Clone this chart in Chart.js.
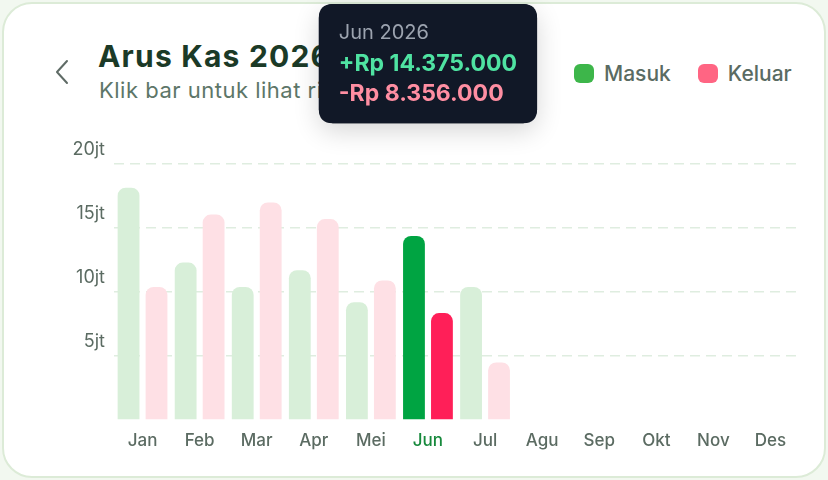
<!DOCTYPE html>
<html>
<head>
<meta charset="utf-8">
<script src="https://cdn.jsdelivr.net/npm/chart.js@4.4.1/dist/chart.umd.min.js"></script>
<style>
  html, body { margin: 0; padding: 0; }
  body { width: 828px; height: 480px; background: #f2f8f0; position: relative; overflow: hidden; font-family: Inter, "Noto Sans", sans-serif; }
  .card { position: absolute; left: 2px; top: 2px; width: 824px; height: 476px; box-sizing: border-box; background: #fff; border: 2px solid #dcebd7; border-radius: 30px; }
  .back { position: absolute; left: 52px; top: 58px; }
  .title { position: absolute; left: 98px; top: 38px; font-size: 30px; font-weight: 700; color: #1b3a27; letter-spacing: 1.2px; white-space: nowrap; }
  .subtitle { position: absolute; left: 99px; top: 77px; font-size: 22px; font-weight: 400; color: #5d7668; letter-spacing: 0.5px; white-space: nowrap; }
  .legend { position: absolute; top: 61px; left: 574px; display: flex; align-items: center; font-size: 21px; font-weight: 500; color: #5a6b62; }
  .legend .sw { width: 20px; height: 19px; border-radius: 6px; display: inline-block; margin-right: 10px; }
  .legend .item { display: flex; align-items: center; margin-right: 27px; }
  canvas { position: absolute; left: 0; top: 0; pointer-events: none; }
</style>
</head>
<body>
<div class="card"></div>
<svg class="back" width="20" height="28" viewBox="0 0 20 28"><polyline points="15,3 5,14 15,25" fill="none" stroke="#5f6b66" stroke-width="2" stroke-linecap="round" stroke-linejoin="round"/></svg>
<div class="title">Arus Kas 2026</div>
<div class="subtitle">Klik bar untuk lihat rincian</div>
<div class="legend">
  <div class="item"><span class="sw" style="background:#3db64a"></span>Masuk</div>
  <div class="item"><span class="sw" style="background:#ff6583"></span>Keluar</div>
</div>
<canvas id="c" width="828" height="480"></canvas>
<script>
const months = ['Jan','Feb','Mar','Apr','Mei','Jun','Jul','Agu','Sep','Okt','Nov','Des'];
const masuk  = [18150000, 12300000, 10400000, 11700000, 9200000, 14375000, 10400000, null, null, null, null, null];
const keluar = [10400000, 16050000, 17000000, 15700000, 10900000, 8356000, 4500000, null, null, null, null, null];
const yTicks = [0, 5000000, 10000000, 15000000, 20000000];
const activeIndex = 5;
const year = 2026;

const greenLight = '#d8efd9', greenActive = '#00a442';
const pinkLight = '#fee0e5', pinkActive = '#ff1f58';

function rupiah(v) {
  return String(Math.round(v)).replace(/\B(?=(\d{3})+(?!\d))/g, '.');
}

Chart.Tooltip.positioners.topFixed = function(elements) {
  if (!elements.length) return false;
  const idx = elements[0].index;
  return { x: this.chart.scales.x.getPixelForValue(idx), y: 4 };
};

const tooltipShadow = {
  id: 'tooltipShadow',
  beforeTooltipDraw(chart, args) {
    const t = args.tooltip;
    if (!t.opacity) return;
    const ctx = chart.ctx;
    ctx.save();
    ctx.shadowColor = 'rgba(0,0,0,0.16)';
    ctx.shadowBlur = 26;
    ctx.shadowOffsetY = 8;
    ctx.fillStyle = '#111827';
    ctx.beginPath();
    ctx.roundRect(t.x, t.y, t.width, t.height, 14);
    ctx.fill();
    ctx.restore();
  }
};

const chart = new Chart(document.getElementById('c'), {
  type: 'bar',
  data: {
    labels: months,
    datasets: [
      { label: 'Masuk', data: masuk,
        backgroundColor: months.map((m, i) => i === activeIndex ? greenActive : greenLight),
        borderRadius: 8, borderSkipped: 'start', barPercentage: 0.78, categoryPercentage: 0.98 },
      { label: 'Keluar', data: keluar,
        backgroundColor: months.map((m, i) => i === activeIndex ? pinkActive : pinkLight),
        borderRadius: 8, borderSkipped: 'start', barPercentage: 0.78, categoryPercentage: 0.98 }
    ]
  },
  options: {
    responsive: false,
    animation: false,
    events: [],
    layout: { padding: { top: 164, right: 29, left: 0, bottom: 0 } },
    plugins: {
      legend: { display: false },
      title: { display: false },
      tooltip: {
        enabled: true,
        position: 'topFixed',
        xAlign: 'center',
        yAlign: 'top',
        caretSize: 0,
        caretPadding: 0,
        backgroundColor: '#111827',
        cornerRadius: 14,
        padding: { left: 20, right: 20, top: 17, bottom: 15 },
        displayColors: false,
        titleFont: { family: 'Inter', size: 20, weight: '400', lineHeight: 1.2 },
        titleColor: '#9ca3af',
        titleMarginBottom: 5,
        bodyFont: { family: 'Inter', size: 23, weight: '700', lineHeight: 1.2 },
        bodySpacing: 3,
        callbacks: {
          title: (items) => months[items[0].dataIndex] + ' ' + year,
          label: (ctx) => (ctx.datasetIndex === 0 ? '+Rp ' : '-Rp ') + rupiah(ctx.raw),
          labelTextColor: (ctx) => ctx.datasetIndex === 0 ? '#4fe3a2' : '#ff8ea2'
        }
      }
    },
    scales: {
      x: {
        grid: { display: false },
        border: { display: false },
        ticks: {
          padding: 3,
          font: { family: 'Inter', size: 17, weight: '500' },
          color: (ctx) => ctx.index === activeIndex ? '#17893c' : '#5b6b62'
        },
        afterFit: (s) => { s.height = 60; }
      },
      y: {
        min: 0, max: 20000000,
        afterBuildTicks: (s) => { s.ticks = yTicks.map(v => ({ value: v })); },
        grid: {
          color: (ctx) => ctx.tick && ctx.tick.value === 0 ? 'rgba(0,0,0,0)' : '#dfede0',
          lineWidth: 1.5,
          drawTicks: false
        },
        border: { display: false, dash: [10, 6] },
        ticks: {
          padding: 9,
          labelOffset: -14,
          font: { family: 'Inter', size: 18, weight: '400' },
          color: '#5b6b62',
          callback: (v) => v === 0 ? '' : (v / 1000000) + 'jt'
        },
        afterFit: (s) => { s.width = 114; }
      }
    }
  },
  plugins: [tooltipShadow]
});

chart.tooltip.setActiveElements(
  [{ datasetIndex: 0, index: activeIndex }, { datasetIndex: 1, index: activeIndex }],
  { x: 428, y: 200 }
);
chart.update();
</script>
</body>
</html>
